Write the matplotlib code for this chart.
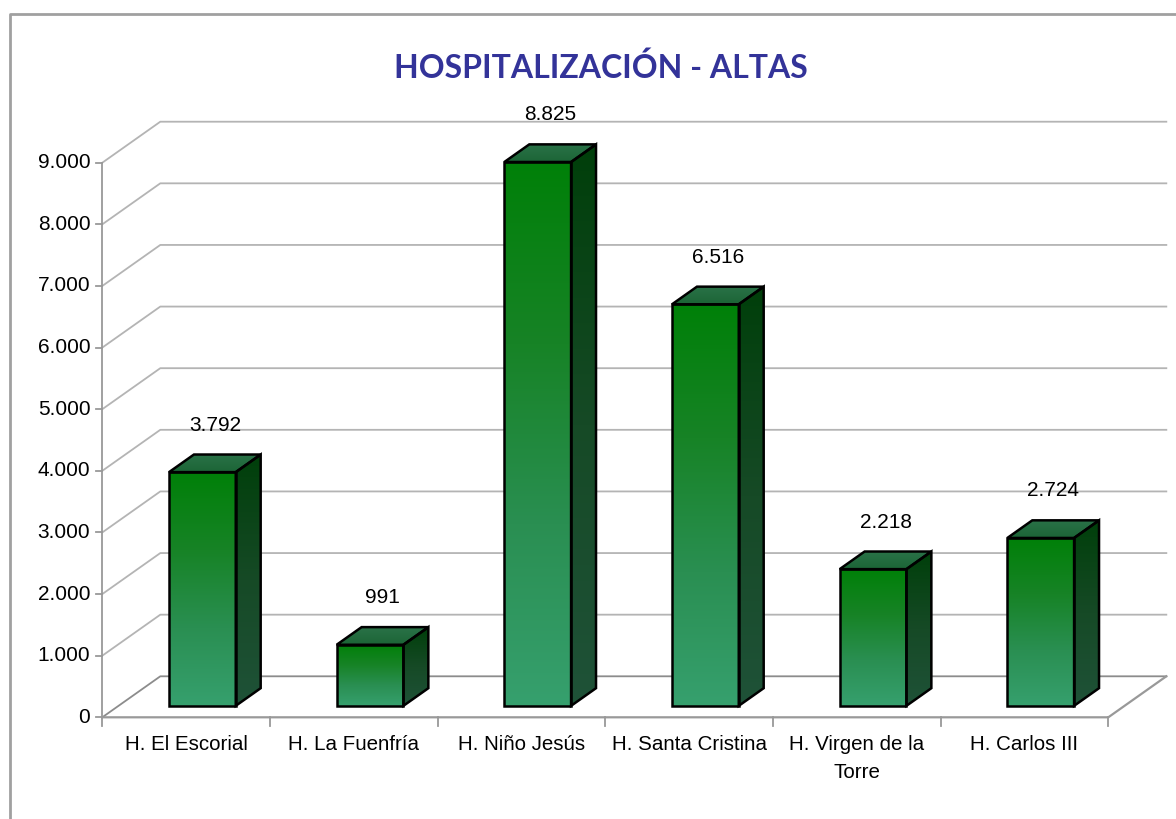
import numpy as np
import matplotlib.pyplot as plt
from matplotlib.patches import Polygon
from matplotlib.lines import Line2D
from matplotlib.colors import LinearSegmentedColormap

# data
categories = ['H. El Escorial', 'H. La Fuenfría', 'H. Niño Jesús',
              'H. Santa Cristina', 'H. Virgen de la\nTorre', 'H. Carlos III']
altas = [3792, 991, 8825, 6516, 2218, 2724]
yticks = [0, 1000, 2000, 3000, 4000, 5000, 6000, 7000, 8000, 9000]
title = 'HOSPITALIZACIÓN - ALTAS'

W, H = 1176, 819
fig = plt.figure(figsize=(W/100, H/100), dpi=100)
ax = fig.add_axes([0, 0, 1, 1])
ax.axis('off')

# pixel layout of the plot area (px from left / from top)
x0_px = 102.3       # left of category -0.5
cat_px = 167.67     # width of one category
y0_px = 717.3       # value 0
val_px = 0.061622   # px per unit
xlim = (-0.5 - x0_px/cat_px, -0.5 + (W - x0_px)/cat_px)
ylim = (-(H - y0_px)/val_px, y0_px/val_px)

def px(dx, dy):
    # pixel offsets to data offsets
    return dx/cat_px, dy/val_px

ddx, ddy = px(58, 41)      # depth of the floor
f0, f1 = 0.28, 0.71        # bar front / back depth
bw = 0.398
n = len(categories)
xl, xr = -0.5, n - 0.5

grid_c = '#b4b4b4'
axis_c = '#999999'

# back wall grid
for v in yticks:
    c = '#8c8c8c' if v == 0 else grid_c
    ax.plot([xl, xl + ddx, xr + ddx], [v, v + ddy, v + ddy], color=c, lw=1.3, zorder=1)
# floor
ax.plot([xl, xr, xr + ddx], [0, 0, ddy], color=axis_c, lw=1.6, zorder=1)
ax.plot([xl, xl], [0, yticks[-1]], color=axis_c, lw=1.3, zorder=1)
tx, _ = px(6, 0)
_, ty = px(0, 9)
for v in yticks:
    ax.plot([xl - tx, xl], [v, v], color=axis_c, lw=1.3, zorder=1)
    ax.text(xl - px(12, 0)[0], v, f'{v:,}'.replace(',', '.'), ha='right', va='center',
            fontsize=15, family='Liberation Sans')
for i in range(n + 1):
    ax.plot([xl + i, xl + i], [0, -ty], color=axis_c, lw=1.3, zorder=1)

front_cm = LinearSegmentedColormap.from_list('f', ['#36a06e', '#2a8f52', '#178326', '#008008'])
side_cm = LinearSegmentedColormap.from_list('s', ['#1f5238', '#164a26', '#003f0a'])
top_cm = LinearSegmentedColormap.from_list('t', ['#1c6536', '#2a7248'])
grad = np.linspace(0, 1, 256).reshape(-1, 1)

for i, v in enumerate(altas):
    cx = i + f0*ddx
    a, b = cx - bw/2, cx + bw/2
    yb = f0*ddy
    yt = yb + v
    bx, by = (f1 - f0)*ddx, (f1 - f0)*ddy
    front = Polygon([(a, yb), (b, yb), (b, yt), (a, yt)], closed=True,
                    fc='none', ec='black', lw=1.8, zorder=4)
    side = Polygon([(b, yb), (b + bx, yb + by), (b + bx, yt + by), (b, yt)], closed=True,
                   fc='none', ec='black', lw=1.8, zorder=4)
    top = Polygon([(a, yt), (b, yt), (b + bx, yt + by), (a + bx, yt + by)], closed=True,
                  fc='none', ec='black', lw=1.8, zorder=4)
    for p, cm, ext in [(front, front_cm, [a, b, yb, yt]),
                       (side, side_cm, [b, b + bx, yb, yt + by]),
                       (top, top_cm, [a, b + bx, yt, yt + by])]:
        ax.add_patch(p)
        im = ax.imshow(grad, cmap=cm, extent=ext, origin='lower', aspect='auto',
                       interpolation='bilinear', zorder=3)
        im.set_clip_path(p)
    ax.text(cx + bx/2, yt + by + px(0, 20)[1], f'{v:,}'.replace(',', '.'),
            ha='center', va='bottom', fontsize=15, family='Liberation Sans', zorder=5)
    ax.text(i, -px(0, 18)[1], categories[i], ha='center', va='top', fontsize=14.8,
            family='Liberation Sans', linespacing=1.6)

ax.set_xlim(*xlim)
ax.set_ylim(*ylim)

fig.text(601/W, 1 - 78/H, title, ha='center', va='baseline', fontsize=23,
         fontweight='bold', family='Lato', color='#333399')

# chart border
fig.add_artist(Line2D([10/W, 10/W, 1], [0, 1 - 14/H, 1 - 14/H], color='#a0a0a0', lw=2,
                      transform=fig.transFigure))

fig.savefig('out.png', dpi=100)
